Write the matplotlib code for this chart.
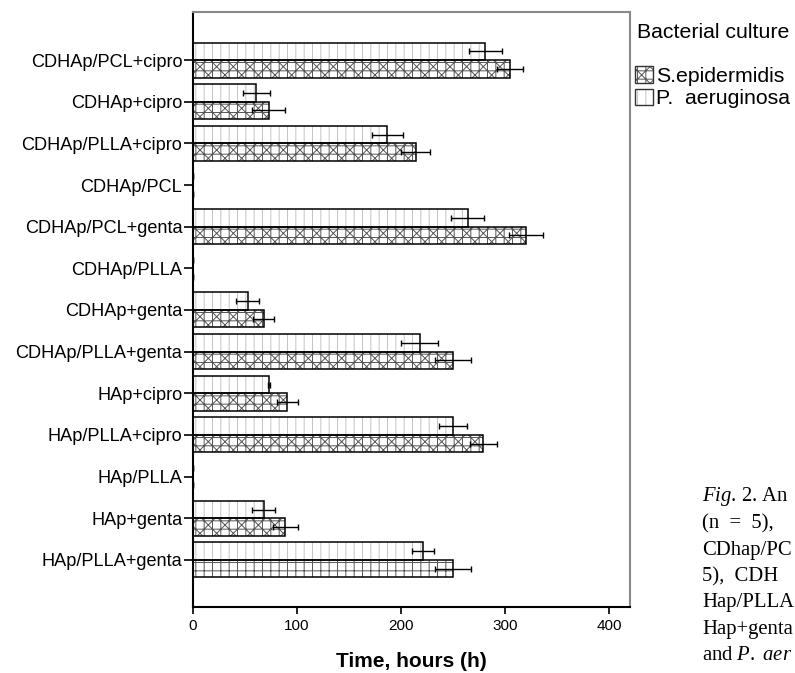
import numpy as np
import matplotlib
matplotlib.use("Agg")
import matplotlib.pyplot as plt
from matplotlib.patches import Patch
from matplotlib.legend_handler import HandlerTuple

plt.rcParams['font.family'] = ['Liberation Sans', 'DejaVu Sans']
plt.rcParams['mathtext.fontset'] = 'custom'
plt.rcParams['mathtext.rm'] = 'Liberation Serif'
plt.rcParams['mathtext.it'] = 'Liberation Serif:italic'
plt.rcParams['hatch.linewidth'] = 0.7

categories = ["CDHAp/PCL+cipro", "CDHAp+cipro", "CDHAp/PLLA+cipro", "CDHAp/PCL",
              "CDHAp/PCL+genta", "CDHAp/PLLA", "CDHAp+genta", "CDHAp/PLLA+genta",
              "HAp+cipro", "HAp/PLLA+cipro", "HAp/PLLA", "HAp+genta", "HAp/PLLA+genta"]
s_epi = [305, 73, 214, 0, 320, 0, 68, 250, 91, 279, 0, 89, 250]
s_epi_err = [12.5, 16, 14, 0, 16, 0, 10, 17, 10, 13, 0, 12, 17]
p_aer = [281, 61, 187, 0, 264, 0, 53, 218, 73, 250, 0, 68, 221]
p_aer_err = [16, 13, 15, 0, 16, 0, 11, 18, 1, 13, 0, 11, 10.5]
x_ticks = [0, 100, 200, 300, 400]

S_HATCH, S_COL = '++xx', '#555555'
P_HATCH, P_COL = '||', '#c4c4c4'

fig = plt.figure(figsize=(7.95, 6.73), dpi=100)
ax = fig.add_axes([0.2424, 0.098, 0.5501, 0.884])

y = np.arange(len(categories))
h = 0.42

s_hatches = [S_HATCH] * (len(categories) - 1) + ['++']

# hatched fills first, then black outlines on top
ax.barh(y - h / 2, p_aer, height=h, color='white', edgecolor=P_COL, hatch=P_HATCH, linewidth=0)
for yi, v, hh in zip(y, s_epi, s_hatches):
    ax.barh(yi + h / 2, v, height=h, color='white', edgecolor=S_COL, hatch=hh, linewidth=0)
ax.barh(y - h / 2, p_aer, height=h, fill=False, edgecolor='black', linewidth=1.1)
ax.barh(y + h / 2, s_epi, height=h, fill=False, edgecolor='black', linewidth=1.1)

ax.errorbar(p_aer, y - h / 2, xerr=p_aer_err, fmt='none', ecolor='black',
            elinewidth=1, capsize=2.5, capthick=1)
ax.errorbar(s_epi, y + h / 2, xerr=s_epi_err, fmt='none', ecolor='black',
            elinewidth=1, capsize=2.5, capthick=1)

ax.set_ylim(len(categories) - 1 + 1.13, -1.15)
ax.set_xlim(0, 420)
ax.set_yticks(y)
ax.set_yticklabels(categories, fontsize=13.1)
ax.set_xticks(x_ticks)
ax.tick_params(axis='x', labelsize=11, length=5, width=1.2)
ax.tick_params(axis='y', length=6.5, width=1.2, pad=1)
ax.set_xlabel('Time, hours (h)', fontsize=15, fontweight='bold', labelpad=14)

ax.spines['left'].set_linewidth(1.5)
ax.spines['bottom'].set_linewidth(1.5)
for side in ('top', 'right'):
    ax.spines[side].set_color('#888888')
    ax.spines[side].set_linewidth(1.5)

fig.text(637 / 795, 1 - 33 / 673, 'Bacterial culture', fontsize=15.3, va='center', ha='left')


def legend_key(hatch, col):
    return (Patch(facecolor='white', edgecolor=col, hatch=hatch, linewidth=0),
            Patch(fill=False, edgecolor='#333333', linewidth=1))


handles = [legend_key(S_HATCH, S_COL), legend_key(P_HATCH, P_COL)]
fig.legend(handles=handles, labels=['S.epidermidis', 'P.  aeruginosa'],
           handler_map={tuple: HandlerTuple(ndivide=1, pad=0)},
           loc='upper left', bbox_to_anchor=(633 / 795, 1 - 64 / 673),
           frameon=False, fontsize=15.3, handlelength=0.85, handleheight=0.85,
           handletextpad=0.12, labelspacing=0.12, borderpad=0.1, borderaxespad=0)

caption = [r"$\mathit{Fig}$. 2. An",
           "(n  =  5),",
           "CDhap/PC",
           "5),  CDH",
           "Hap/PLLA",
           "Hap+genta",
           r"and $\mathit{P.\ aer}$"]
for i, line in enumerate(caption):
    fig.text(702 / 795, 1 - (497 + 26.5 * i) / 673, line, fontsize=14.9,
             family='Liberation Serif', va='center', ha='left')

plt.savefig("out.png", dpi=100)
